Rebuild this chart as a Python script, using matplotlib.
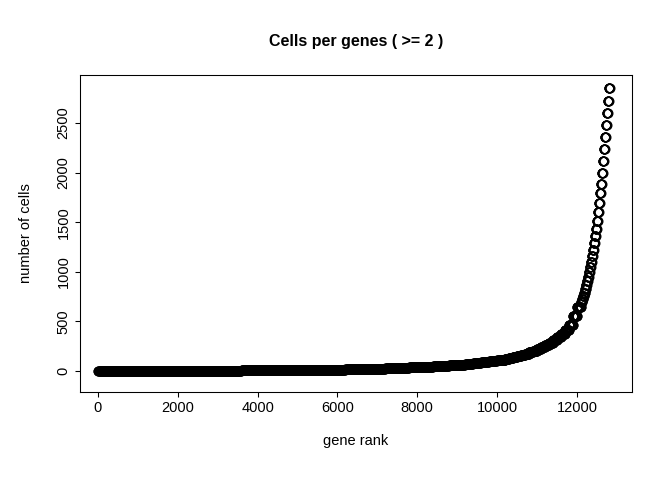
import numpy as np
from matplotlib import pyplot as plt

plt.rcParams['font.family'] = ['Liberation Sans', 'DejaVu Sans']
plt.rcParams['font.size'] = 11

# values: each value holds across a block of gene ranks
ranks_low = list(range(0, 10001, 200))
cells_low = [2, 2, 2, 2, 2, 2, 2, 3, 3, 3, 3,
             3, 3, 3, 4, 4, 4, 4, 5, 5, 5,
             6, 6, 7, 7, 8, 9, 10, 11, 12, 14,
             15, 17, 19, 21, 23, 26, 29, 32, 36, 40,
             44, 48, 53, 58, 64, 70, 78, 88, 98, 110]
ranks_mid = list(range(10100, 12001, 100))
cells_mid = [115, 122, 130, 140, 150, 162, 175, 190, 205, 222,
             240, 262, 285, 310, 340, 375, 415, 460, 550, 650]
ranks_top = list(range(12100, 12801, 25))
cells_top = [700, 730, 760, 790, 830, 870, 910, 950, 1000, 1050,
             1100, 1160, 1220, 1290, 1360, 1430, 1510, 1600, 1690, 1790,
             1890, 2000, 2120, 2240, 2360, 2480, 2600, 2720, 2850]


def blocks(starts, values, width, step):
    xs, ys = [], []
    for s, v in zip(starts, values):
        r = np.arange(s, s + width, step)
        xs.append(r)
        ys.append(np.full(len(r), v))
    return np.concatenate(xs), np.concatenate(ys)


x1, y1 = blocks(ranks_low, cells_low, 200, 10)
x2, y2 = blocks(ranks_mid, cells_mid, 100, 5)
x3, y3 = blocks(ranks_top, cells_top, 25, 5)
ranks = np.concatenate([x1, x2, x3])
cells = np.concatenate([y1, y2, y3])

fig = plt.figure(figsize=(7, 5), dpi=96)
ax = fig.add_axes([80 / 672, 88 / 480, 552 / 672, 317 / 480])
ax.plot(ranks, cells, 'o', mfc='none', mec='black', ms=6.5, mew=1)

ax.set_xlim(-450, 13380)
ax.set_ylim(-212, 2984)
ax.set_xticks(np.arange(0, 12001, 2000))
ax.set_yticks(np.arange(0, 2501, 500))
ax.tick_params(axis='y', labelrotation=90)
for t in ax.get_yticklabels():
    t.set_va('center')
ax.set_xlabel("gene rank", labelpad=14)
ax.set_ylabel("number of cells", labelpad=18)
ax.set_title("Cells per genes ( >= 2 )", fontweight='bold', fontsize=12, pad=22)

fig.savefig("out.png", dpi=96)
